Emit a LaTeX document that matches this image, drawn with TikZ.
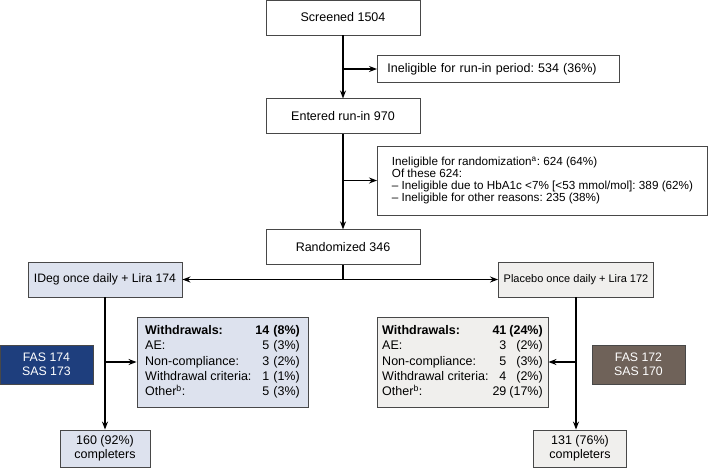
\documentclass[tikz,border=0pt]{standalone}
\usepackage{fontspec}
\setmainfont{Liberation Sans}
\usetikzlibrary{positioning, arrows.meta}
\frenchspacing

\definecolor{boxline}{RGB}{72,72,72}
\definecolor{idegfill}{RGB}{221,226,238}
\definecolor{placfill}{RGB}{240,239,237}
\definecolor{fasblue}{RGB}{30,62,125}
\definecolor{fasbrown}{RGB}{111,98,89}

\begin{document}
\begin{tikzpicture}[x=1pt, y=-1pt, >={Stealth[length=8pt, width=6pt]}, line width=1.2pt,
    box/.style={draw=boxline, line width=0.9pt, inner sep=0pt, fill=white},
    mainbox/.style={box, minimum width=154pt, minimum height=35pt, font=\fontsize{12.5}{14}\selectfont},
    sidebox/.style={box, anchor=west, font=\fontsize{12.5}{14}\selectfont},
    armbox/.style={box, minimum width=154pt, minimum height=35pt},
    wdbox/.style={box, minimum width=171pt, minimum height=90pt, font=\fontsize{12.5}{15.3}\selectfont},
    fasbox/.style={box, text=white, align=center, minimum width=93pt, minimum height=39pt, font=\fontsize{12.3}{14}\selectfont},
    donebox/.style={box, align=center, minimum height=37pt, font=\fontsize{12.5}{14}\selectfont}]
\useasboundingbox (0,0) rectangle (709,467);

% screening column
\node[mainbox] (screen) at (343,17.5) {Screened 1504};
\node[mainbox, below=63pt of screen] (entered) {Entered run-in 970};
\node[mainbox, below=95pt of entered] (rand) {Randomized 346};

\node[sidebox, text width=222pt, inner xsep=10pt, minimum height=27pt] (runin) at (377,69)
  {Ineligible for run-in period: 534 (36\%)};
\node[sidebox, align=left, minimum width=330pt, minimum height=69pt, font=\fontsize{11.7}{12}\selectfont] (inrand) at (377,180.5)
  {Ineligible for randomization\textsuperscript{a}: 624 (64\%)\\
   Of these 624:\\
   -- Ineligible due to HbA1c <7\% [<53 mmol/mol]: 389 (62\%)\\
   -- Ineligible for other reasons: 235 (38\%)};

% treatment arms
\node[armbox, fill=idegfill, font=\fontsize{12.2}{14}\selectfont] (ideg) at (105,279.5) {IDeg once daily + Lira 174};
\node[armbox, fill=placfill, minimum width=155pt, font=\fontsize{11}{13}\selectfont] (plac) at (576,279.5) {Placebo once daily + Lira 172};

\node[wdbox, fill=idegfill] (wdA) at (222.5,362) {%
  \begin{tabular}{@{}l@{\hspace{4pt}}r@{\hspace{4pt}}r@{}}
  \textbf{Withdrawals:} & \textbf{14} & \textbf{(8\%)}\\
  AE: & 5 & (3\%)\\
  Non-compliance: & 3 & (2\%)\\
  Withdrawal criteria: & 1 & (1\%)\\
  Other\textsuperscript{b}: & 5 & (3\%)
  \end{tabular}};
\node[wdbox, fill=placfill] (wdB) at (462.5,362) {%
  \begin{tabular}{@{}l@{\hspace{4pt}}r@{\hspace{3pt}}r@{}}
  \textbf{Withdrawals:} & \textbf{41} & \textbf{(24\%)}\\
  AE: & 3 & (2\%)\\
  Non-compliance: & 5 & (3\%)\\
  Withdrawal criteria: & 4 & (2\%)\\
  Other\textsuperscript{b}: & 29 & (17\%)
  \end{tabular}};

\node[fasbox, fill=fasblue] (fasA) at (46.5,364.5) {FAS 174\\SAS 173};
\node[fasbox, fill=fasbrown] (fasB) at (638.5,364.5) {FAS 172\\SAS 170};

\node[donebox, fill=idegfill, minimum width=90pt] (doneA) at (105,448.5) {160 (92\%)\\completers};
\node[donebox, fill=placfill, minimum width=93pt] (doneB) at (580,448.5) {131 (76\%)\\completers};

% connectors
\draw[->] (screen) -- (entered);
\draw[->] (screen.south |- runin.west) -- (runin.west);
\draw[->] (entered) -- (rand);
\draw[->] (entered.south |- inrand.west) -- (inrand.west);

\coordinate (split) at (rand.south |- ideg.east);
\draw (rand.south) -- (split);
\draw[->] (split) -- (ideg.east);
\draw[->] (split) -- (plac.west);

\draw[->] (ideg.south) -- (ideg.south |- doneA.north);
\draw[->] (ideg.south |- wdA.west) -- (wdA.west);
\draw[->] (plac.south) -- (plac.south |- doneB.north);
\draw[->] (plac.south |- wdB.east) -- (wdB.east);
\end{tikzpicture}
\end{document}
